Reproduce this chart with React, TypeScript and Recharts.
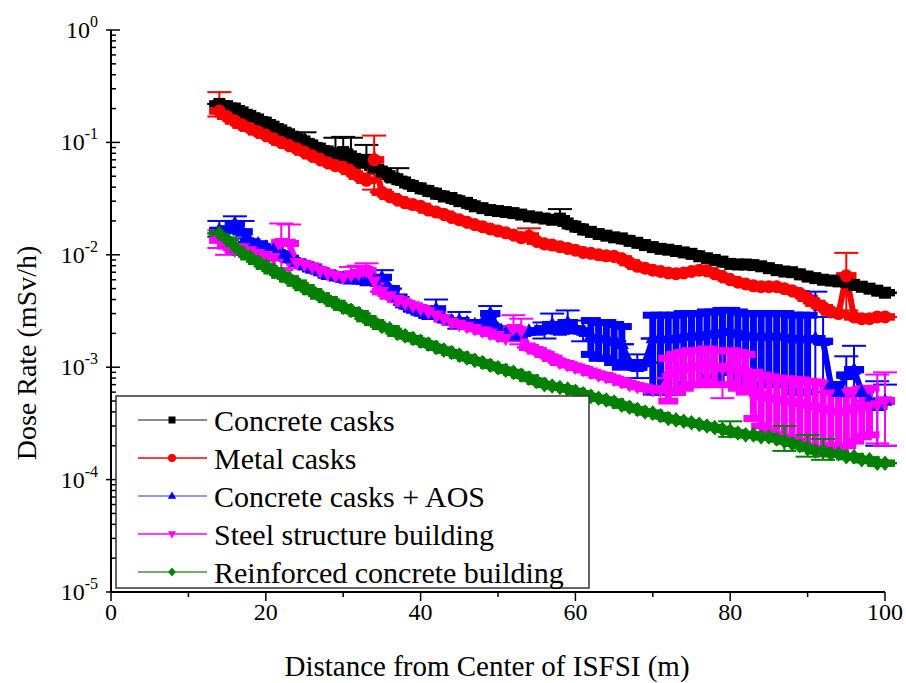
import React from "react";
import { ComposedChart, Line, XAxis, YAxis, ErrorBar } from "recharts";

const FONT = "'Liberation Serif', 'Times New Roman', Times, serif";

// distance from the ISFSI centre (m)
const distance = [
  14, 15, 16, 17, 18, 19, 20, 21, 22, 23,
  24, 25, 26, 27, 28, 29, 30, 31, 32, 33,
  34, 35, 36, 37, 38, 39, 40, 41, 42, 43,
  44, 45, 46, 47, 48, 49, 50, 51, 52, 53,
  54, 55, 56, 57, 58, 59, 60, 61, 62, 63,
  64, 65, 66, 67, 68, 69, 70, 71, 72, 73,
  74, 75, 76, 77, 78, 79, 80, 81, 82, 83,
  84, 85, 86, 87, 88, 89, 90, 91, 92, 93,
  94, 95, 96, 97, 98, 99, 100,
];

// dose rates (mSv/h)
const concreteCasks = [
  0.22, 0.21, 0.2, 0.185, 0.172, 0.16, 0.15, 0.138, 0.128, 0.118,
  0.11, 0.102, 0.094, 0.088, 0.083, 0.08, 0.082, 0.075, 0.066, 0.07,
  0.06, 0.055, 0.05, 0.047, 0.044, 0.041, 0.039, 0.037, 0.035, 0.033,
  0.032, 0.03, 0.029, 0.027, 0.026, 0.025, 0.0245, 0.024, 0.0235, 0.0228,
  0.022, 0.0215, 0.021, 0.0205, 0.021, 0.019, 0.0178, 0.0168, 0.016, 0.0153,
  0.0148, 0.0143, 0.014, 0.0133, 0.0128, 0.0122, 0.0117, 0.0113, 0.0111, 0.0108,
  0.0105, 0.0102, 0.0097, 0.0093, 0.009, 0.0087, 0.0083, 0.0082, 0.0082, 0.0081,
  0.0079, 0.0076, 0.0073, 0.0071, 0.007, 0.0067, 0.0064, 0.0062, 0.006, 0.0059,
  0.0058, 0.0057, 0.0054, 0.0052, 0.005, 0.0048, 0.0046,
];

const metalCasks = [
  0.19, 0.17, 0.155, 0.142, 0.133, 0.124, 0.116, 0.108, 0.1, 0.094,
  0.088, 0.082, 0.076, 0.071, 0.066, 0.062, 0.06, 0.055, 0.05, 0.046,
  0.07, 0.036, 0.033, 0.031, 0.029, 0.028, 0.027, 0.025, 0.024, 0.023,
  0.0215, 0.0205, 0.0195, 0.0185, 0.0178, 0.017, 0.0163, 0.0157, 0.015, 0.0142,
  0.0147, 0.0132, 0.0125, 0.0122, 0.0118, 0.0114, 0.011, 0.0105, 0.0103, 0.01,
  0.0098, 0.0097, 0.0092, 0.0085, 0.0079, 0.0076, 0.0073, 0.0071, 0.0069, 0.0068,
  0.0069, 0.0071, 0.0073, 0.0072, 0.0068, 0.0064, 0.006, 0.0057, 0.0055, 0.0053,
  0.0052, 0.0052, 0.0052, 0.005, 0.0048, 0.0045, 0.0041, 0.0037, 0.0034, 0.0031,
  0.003, 0.0065, 0.0028, 0.0027, 0.0027, 0.0028, 0.0028,
];

const concreteAos = [
  0.0165, 0.017, 0.019, 0.016, 0.013, 0.0125, 0.0117, 0.011, 0.0102, 0.0093,
  0.0086, 0.008, 0.0075, 0.0071, 0.0066, 0.0064, 0.0062, 0.006, 0.006, 0.0058,
  0.0059, 0.0063, 0.005, 0.0042, 0.0036, 0.0033, 0.0031, 0.0029, 0.0033, 0.0027,
  0.0026, 0.0026, 0.0025, 0.0024, 0.0025, 0.003, 0.0022, 0.002, 0.0019, 0.002,
  0.0021, 0.0021, 0.0022, 0.0024, 0.0021, 0.0025, 0.0022, 0.0021, 0.0019, 0.0018,
  0.0018, 0.0017, 0.0016, 0.0011, 0.001, 0.0011, 0.0018, 0.0018, 0.0018, 0.0018,
  0.0019, 0.0019, 0.0019, 0.002, 0.002, 0.0021, 0.0021, 0.002, 0.0019, 0.0019,
  0.0019, 0.0019, 0.0019, 0.0019, 0.0018, 0.0018, 0.0018, 0.0018, 0.0017, 0.0007,
  0.0006, 0.00085, 0.00095, 0.0006, 0.0005, 0.00045, 0.0005,
];

const steelBuilding = [
  0.0135, 0.012, 0.011, 0.0115, 0.0108, 0.0102, 0.0098, 0.0094, 0.0128, 0.0126,
  0.0085, 0.0082, 0.0078, 0.0072, 0.0068, 0.0065, 0.0063, 0.0066, 0.0068, 0.0072,
  0.0058, 0.0047, 0.0043, 0.004, 0.0037, 0.0035, 0.0033, 0.0031, 0.0029, 0.0027,
  0.0025, 0.0024, 0.0023, 0.0022, 0.0021, 0.002, 0.0019, 0.0018, 0.0022, 0.0021,
  0.0015, 0.0014, 0.0013, 0.0012, 0.0011, 0.00105, 0.001, 0.00095, 0.0009, 0.00085,
  0.00082, 0.00078, 0.00074, 0.0007, 0.00067, 0.00065, 0.00063, 0.00062, 0.0008, 0.0009,
  0.00095, 0.001, 0.001, 0.00105, 0.001, 0.00098, 0.001, 0.00095, 0.0009, 0.0006,
  0.00055, 0.00052, 0.0005, 0.00049, 0.00048, 0.00047, 0.00045, 0.00044, 0.00042, 0.0004,
  0.00039, 0.0004, 0.00042, 0.00044, 0.00045, 0.00046, 0.0005,
];

const concreteBuilding = [
  0.0155, 0.0135, 0.0118, 0.0105, 0.0096, 0.0087, 0.0079, 0.0072, 0.0066, 0.0061,
  0.0056, 0.0051, 0.0047, 0.0043, 0.004, 0.0037, 0.0034, 0.0032, 0.003, 0.0027,
  0.0025, 0.0023, 0.0022, 0.002, 0.0019, 0.0018, 0.0017, 0.0016, 0.0015, 0.00142,
  0.00135, 0.00128, 0.00121, 0.00115, 0.0011, 0.00104, 0.00099, 0.00094, 0.0009, 0.00085,
  0.0008, 0.00075, 0.0007, 0.00068, 0.00066, 0.00064, 0.00061, 0.00058, 0.00055, 0.00053,
  0.00051, 0.00049, 0.00046, 0.00044, 0.00042, 0.0004, 0.00039, 0.00037, 0.00035, 0.00034,
  0.00033, 0.00032, 0.00031, 0.0003, 0.00029, 0.00028, 0.00027, 0.00026, 0.00025, 0.00025,
  0.00024, 0.00024, 0.00023, 0.00022, 0.00021, 0.0002, 0.00019, 0.00018, 0.00018, 0.00017,
  0.00017, 0.00016, 0.00016, 0.00015, 0.00015, 0.00014, 0.00014,
];

// isolated error bars: [distance, minus, plus]
const concreteCasksErr = [
  [25, 0.006, 0.021], [29, 0.008, 0.03], [30, 0.012, 0.03], [31, 0.006, 0.035],
  [33, 0.006, 0.025], [37, 0.003, 0.012], [58, 0.002, 0.0045],
];
const metalCasksErr = [
  [14, 0.02, 0.09], [34, 0.032, 0.045], [54, 0.001, 0.0025], [95, 0.0033, 0.0039],
];
const concreteAosErr = [
  [14, 0.002, 0.0035], [16, 0.002, 0.003], [17, 0.002, 0.004], [35, 0.001, 0.001],
  [42, 0.0005, 0.0007], [45, 0.0004, 0.0005], [49, 0.0006, 0.0005], [56, 0.0004, 0.0003],
  [57, 0.0004, 0.0006], [59, 0.0005, 0.0007], [61, 0.0004, 0.0005], [68, 0.0002, 0.0003],
  [91, 0.0012, 0.0029], [92, 0.0011, 0.0011], [95, 0.0003, 0.0004], [96, 0.0004, 0.0006],
  [99, 0.00025, 0.0003], [100, 0.0003, 0.0002],
];
const steelBuildingErr = [
  [14, 0.002, 0.003], [15, 0.002, 0.002], [22, 0.0055, 0.0062], [23, 0.005, 0.006],
  [31, 0.001, 0.0012], [32, 0.001, 0.0012], [33, 0.0012, 0.0012], [52, 0.0005, 0.0007],
  [53, 0.0005, 0.0006], [79, 0.00045, 0.0004], [99, 0.00025, 0.0004], [100, 0.0003, 0.0004],
];
const concreteBuildingErr = [
  [80, 0.00003, 0.00006], [87, 0.00004, 0.00008], [90, 0.00003, 0.00006], [92, 0.00003, 0.00005],
];

// densely packed error bars that read as filled bands
const concreteAosBand = [
  [62, 0.0006, 0.0007], [63, 0.0006, 0.0007], [64, 0.0006, 0.0007], [65, 0.0006, 0.0007],
  [66, 0.0006, 0.0007], [70, 0.0012, 0.0011], [71, 0.0012, 0.0011], [72, 0.0012, 0.0011],
  [73, 0.0012, 0.0011], [74, 0.0012, 0.0011], [75, 0.0012, 0.0011], [76, 0.0012, 0.0011],
  [77, 0.0012, 0.0011], [78, 0.0012, 0.0011], [79, 0.0012, 0.0011], [80, 0.0012, 0.0011],
  [81, 0.0012, 0.0011], [82, 0.0012, 0.0011], [83, 0.0012, 0.0011], [84, 0.0012, 0.0011],
  [85, 0.0012, 0.0011], [86, 0.0012, 0.0011], [87, 0.0012, 0.0011], [88, 0.0012, 0.0011],
  [89, 0.0012, 0.0011], [90, 0.0012, 0.0011],
];
const steelBuildingBand = [
  [72, 0.0003, 0.0004], [73, 0.0003, 0.0004], [74, 0.0003, 0.0004], [75, 0.0003, 0.0004],
  [76, 0.0003, 0.0004], [77, 0.0003, 0.0004], [78, 0.0003, 0.0004], [80, 0.0003, 0.0004],
  [81, 0.0003, 0.0004], [82, 0.0003, 0.0004], [83, 0.00025, 0.0003], [84, 0.00025, 0.0003],
  [85, 0.00025, 0.0003], [86, 0.00025, 0.0003], [87, 0.00025, 0.0003], [88, 0.00025, 0.0003],
  [89, 0.00025, 0.0003], [90, 0.00025, 0.0003], [91, 0.00025, 0.0003], [92, 0.00025, 0.0003],
  [93, 0.0002, 0.0002], [94, 0.0002, 0.0002], [95, 0.0002, 0.0002], [96, 0.0002, 0.0002],
  [97, 0.0002, 0.0002], [98, 0.0002, 0.0002],
];

const xTicks = [0, 10, 20, 30, 40, 50, 60, 70, 80, 90, 100];
const yMajor = [1e-5, 1e-4, 1e-3, 1e-2, 1e-1, 1];
const yTicks: number[] = [];
yMajor.forEach((d, i) => {
  yTicks.push(d);
  if (i < yMajor.length - 1) for (let m = 2; m <= 9; m++) yTicks.push(m * d);
});

const series = [
  { key: "cc", name: "Concrete casks", values: concreteCasks, errs: concreteCasksErr, band: [] as number[][], color: "#000000", legendLine: "#666666", shape: "square" },
  { key: "mc", name: "Metal casks", values: metalCasks, errs: metalCasksErr, band: [] as number[][], color: "#ff0000", legendLine: "#ff0000", shape: "circle" },
  { key: "aos", name: "Concrete casks + AOS", values: concreteAos, errs: concreteAosErr, band: concreteAosBand, color: "#0000ff", legendLine: "#7070ff", shape: "up" },
  { key: "ssb", name: "Steel structure building", values: steelBuilding, errs: steelBuildingErr, band: steelBuildingBand, color: "#ff00ff", legendLine: "#ff00ff", shape: "down" },
  { key: "rcb", name: "Reinforced concrete building", values: concreteBuilding, errs: concreteBuildingErr, band: [] as number[][], color: "#008000", legendLine: "#3a9a3a", shape: "diamond" },
];

const errAt = (list: number[][], x: number) => {
  const e = list.find((r) => r[0] === x);
  return e ? [e[1], e[2]] : [0, 0];
};

const data = distance.map((x, i) => {
  const row: any = { x };
  series.forEach((s) => {
    row[s.key] = s.values[i];
    row[s.key + "Err"] = errAt(s.errs, x);
    row[s.key + "Band"] = errAt(s.band, x);
  });
  return row;
});

function Marker({ shape, cx, cy, r, color }: any) {
  if (cx == null || cy == null || isNaN(cy)) return null;
  switch (shape) {
    case "square":
      return <rect x={cx - r} y={cy - r} width={2 * r} height={2 * r} fill={color} />;
    case "circle":
      return <circle cx={cx} cy={cy} r={r + 0.5} fill={color} />;
    case "up":
      return <polygon points={`${cx},${cy - r * 1.3} ${cx - r * 1.2},${cy + r * 0.8} ${cx + r * 1.2},${cy + r * 0.8}`} fill={color} />;
    case "down":
      return <polygon points={`${cx},${cy + r * 1.3} ${cx - r * 1.2},${cy - r * 0.8} ${cx + r * 1.2},${cy - r * 0.8}`} fill={color} />;
    default:
      return <polygon points={`${cx},${cy - r * 1.3} ${cx + r * 1.1},${cy} ${cx},${cy + r * 1.3} ${cx - r * 1.1},${cy}`} fill={color} />;
  }
}

const isMajor = (v: number) => Math.abs(Math.log10(v) - Math.round(Math.log10(v))) < 1e-6;
const txt = { fontFamily: FONT, fill: "#000" };

const LeftTick = ({ x, y, payload }: any) => {
  const v = payload.value;
  const major = isMajor(v);
  return (
    <g>
      <line x1={major ? x - 5 : x} x2={x + (major ? 9 : 5)} y1={y} y2={y} stroke="#000" strokeWidth={1.5} />
      {major && (
        <text x={x - 13} y={y + 8} textAnchor="end" style={{ ...txt, fontSize: 24 }}>
          10<tspan dy={-11} style={{ fontSize: 16 }}>{Math.round(Math.log10(v))}</tspan>
        </text>
      )}
    </g>
  );
};

const RightTick = ({ x, y, payload }: any) => {
  const major = isMajor(payload.value);
  return <line x1={x} x2={x - (major ? 9 : 5)} y1={y} y2={y} stroke="#000" strokeWidth={1.5} />;
};

const BottomTick = ({ x, y, payload }: any) => {
  const v = payload.value;
  const major = v % 20 === 0;
  return (
    <g>
      <line x1={x} x2={x} y1={y} y2={y + (major ? 9 : 5)} stroke="#000" strokeWidth={1.5} />
      {major && (
        <text x={x} y={y + 28} textAnchor="middle" style={{ ...txt, fontSize: 24 }}>
          {v}
        </text>
      )}
    </g>
  );
};

const TopTick = ({ x, y, payload }: any) => {
  const major = payload.value % 20 === 0;
  return <line x1={x} x2={x} y1={y} y2={y + (major ? 9 : 5)} stroke="#000" strokeWidth={1.5} />;
};

const axisLine = { stroke: "#000", strokeWidth: 2 };

export default function App() {
  return (
    <div style={{ position: "absolute", left: 0, top: 0, width: 906, height: 683, background: "#fff", fontFamily: FONT }}>
      <ComposedChart
        width={906}
        height={683}
        data={data}
        margin={{ top: 30, right: 21, bottom: 11, left: 31 }}
      >
        <XAxis
          dataKey="x"
          type="number"
          domain={[0, 100]}
          ticks={xTicks}
          interval={0}
          height={80}
          tickSize={0}
          tickMargin={0}
          tickLine={false}
          axisLine={axisLine}
          tick={BottomTick}
        />
        <XAxis
          xAxisId="top"
          orientation="top"
          dataKey="x"
          type="number"
          domain={[0, 100]}
          ticks={xTicks}
          interval={0}
          height={0}
          tickSize={0}
          tickMargin={0}
          tickLine={false}
          axisLine={axisLine}
          tick={TopTick}
        />
        <YAxis
          type="number"
          scale="log"
          domain={[1e-5, 1]}
          allowDataOverflow
          ticks={yTicks}
          interval={0}
          width={80}
          tickSize={0}
          tickMargin={0}
          tickLine={false}
          axisLine={axisLine}
          tick={LeftTick}
        />
        <YAxis
          yAxisId="right"
          orientation="right"
          type="number"
          scale="log"
          domain={[1e-5, 1]}
          allowDataOverflow
          ticks={yTicks}
          interval={0}
          width={0}
          tickSize={0}
          tickMargin={0}
          tickLine={false}
          axisLine={axisLine}
          tick={RightTick}
        />
        {series.map((s) => (
          <Line
            key={s.key}
            dataKey={s.key}
            name={s.name}
            type="linear"
            stroke={s.color}
            strokeWidth={6}
            isAnimationActive={false}
            activeDot={false}
            dot={(p: any) => <Marker key={`${s.key}-${p.index}`} shape={s.shape} cx={p.cx} cy={p.cy} r={6} color={s.color} />}
          >
            <ErrorBar
              dataKey={s.key + "Band"}
              direction="y"
              width={10}
              stroke={s.color}
              strokeWidth={7}
              isAnimationActive={false}
            />
            <ErrorBar
              dataKey={s.key + "Err"}
              direction="y"
              width={12}
              stroke={s.color}
              strokeWidth={2}
              isAnimationActive={false}
            />
          </Line>
        ))}
      </ComposedChart>

      <svg width={906} height={683} style={{ position: "absolute", left: 0, top: 0, pointerEvents: "none" }}>
        <text
          x={36}
          y={353}
          transform="rotate(-90, 36, 353)"
          textAnchor="middle"
          style={{ ...txt, fontSize: 28 }}
        >
          Dose Rate (mSv/h)
        </text>
        <text x={487} y={676} textAnchor="middle" style={{ ...txt, fontSize: 29 }}>
          Distance from Center of ISFSI (m)
        </text>
        <rect x={116} y={396} width={473} height={192} fill="#fff" stroke="#333" strokeWidth={1.5} />
        {series.map((s, i) => {
          const cy = 420 + i * 38;
          return (
            <g key={s.key}>
              <line x1={138} x2={207} y1={cy} y2={cy} stroke={s.legendLine} strokeWidth={1.5} />
              <Marker shape={s.shape} cx={172} cy={cy} r={3.5} color={s.color} />
              <text x={214} y={cy + 11} style={{ ...txt, fontSize: 30 }}>
                {s.name}
              </text>
            </g>
          );
        })}
      </svg>
    </div>
  );
}
